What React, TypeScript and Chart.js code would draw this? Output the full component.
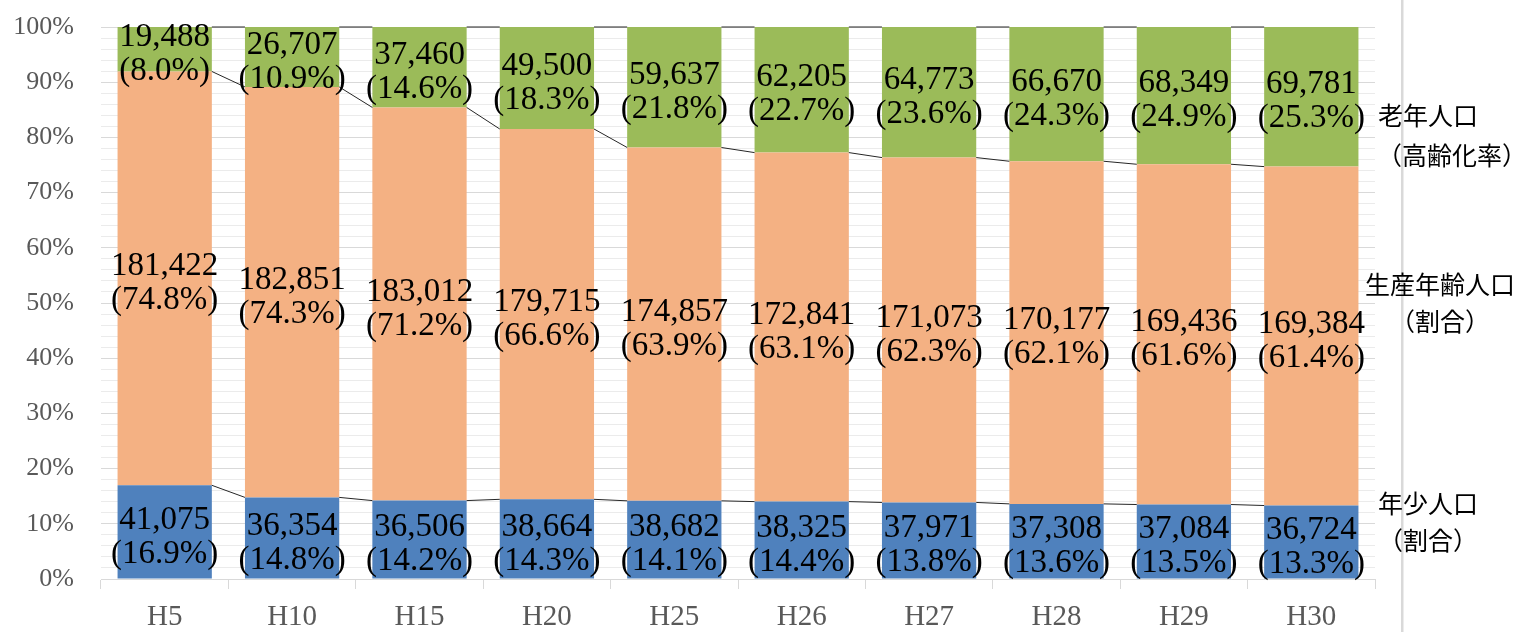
import React, { useEffect, useRef } from 'react';
import { Chart, registerables } from 'chart.js';

Chart.register(...registerables);

const categories = ['H5', 'H10', 'H15', 'H20', 'H25', 'H26', 'H27', 'H28', 'H29', 'H30'];
const youthValues = [41075, 36354, 36506, 38664, 38682, 38325, 37971, 37308, 37084, 36724];
const workingValues = [181422, 182851, 183012, 179715, 174857, 172841, 171073, 170177, 169436, 169384];
const elderlyValues = [19488, 26707, 37460, 49500, 59637, 62205, 64773, 66670, 68349, 69781];
const youthPct = [16.9, 14.8, 14.2, 14.3, 14.1, 14.4, 13.8, 13.6, 13.5, 13.3];
const workingPct = [74.8, 74.3, 71.2, 66.6, 63.9, 63.1, 62.3, 62.1, 61.6, 61.4];
const elderlyPct = [8.0, 10.9, 14.6, 18.3, 21.8, 22.7, 23.6, 24.3, 24.9, 25.3];
const seriesNames = ['年少人口', '生産年齢人口', '老年人口'];
const sideLabelLines = [
  ['老年人口', '（高齢化率）'],
  ['生産年齢人口', '（割合）'],
  ['年少人口', '（割合）'],
];

const colors = ['#4f81bd', '#f4b183', '#9bbb59'];
const seriesValues = [youthValues, workingValues, elderlyValues];
const seriesPct = [youthPct, workingPct, elderlyPct];
const totals = categories.map((_, i) => youthValues[i] + workingValues[i] + elderlyValues[i]);

const labelPlugin = {
  id: 'barLabels',
  afterDatasetsDraw(chart: any) {
    const ctx = chart.ctx;
    ctx.save();
    // connector lines
    ctx.strokeStyle = '#262626';
    ctx.lineWidth = 1;
    chart.data.datasets.forEach((_: any, di: number) => {
      const meta = chart.getDatasetMeta(di);
      for (let i = 0; i < meta.data.length - 1; i++) {
        const a = meta.data[i];
        const b = meta.data[i + 1];
        ctx.beginPath();
        ctx.moveTo(a.x + a.width / 2, a.y);
        ctx.lineTo(b.x - b.width / 2, b.y);
        ctx.stroke();
      }
    });
    // data labels
    ctx.fillStyle = '#000000';
    ctx.font = '33px "Liberation Serif"';
    ctx.textAlign = 'center';
    ctx.textBaseline = 'middle';
    chart.data.datasets.forEach((_: any, di: number) => {
      const meta = chart.getDatasetMeta(di);
      meta.data.forEach((el: any, i: number) => {
        const cy = (el.y + el.base) / 2 + 5;
        const v = seriesValues[di][i].toLocaleString('en-US');
        const p = '(' + seriesPct[di][i].toFixed(1) + '%)';
        ctx.fillText(v, el.x, cy - 17);
        ctx.fillText(p, el.x, cy + 17);
      });
    });
    ctx.restore();
  },
  afterDraw(chart: any) {
    const ctx = chart.ctx;
    const { right, top, bottom } = chart.chartArea;
    const h = bottom - top;
    ctx.save();
    ctx.fillStyle = '#d9d9d9';
    ctx.fillRect(right + 26, 0, 2.5, chart.height);
    ctx.fillStyle = '#000000';
    ctx.font = '25px "Noto Sans CJK JP"';
    ctx.textBaseline = 'middle';
    // elderly (left aligned)
    ctx.textAlign = 'left';
    ctx.fillText(sideLabelLines[0][0], right + 3, top + h * (1 - 0.839));
    ctx.fillText(sideLabelLines[0][1], right + 2, top + h * (1 - 0.768));
    // working (centered)
    ctx.textAlign = 'center';
    ctx.fillText(sideLabelLines[1][0], right + 65, top + h * (1 - 0.534));
    ctx.fillText(sideLabelLines[1][1], right + 65, top + h * (1 - 0.467));
    // youth (centered)
    ctx.fillText(sideLabelLines[2][0], right + 53, top + h * (1 - 0.136));
    ctx.fillText(sideLabelLines[2][1], right + 53, top + h * (1 - 0.069));
    ctx.restore();
  },
};

export default function App() {
  const ref = useRef<HTMLCanvasElement>(null);
  useEffect(() => {
    if (!ref.current) return;
    const chart = new Chart(ref.current, {
      type: 'bar',
      data: {
        labels: categories,
        datasets: seriesValues.map((vals, di) => ({
          label: seriesNames[di],
          data: vals.map((v, i) => (v / totals[i]) * 100),
          backgroundColor: colors[di],
          borderWidth: 0,
          barPercentage: 0.74,
          categoryPercentage: 1,
        })),
      },
      options: {
        responsive: false,
        animation: false,
        devicePixelRatio: 1,
        layout: { padding: { top: 27, right: 145, left: 0, bottom: 0 } },
        plugins: { legend: { display: false }, tooltip: { enabled: false } },
        scales: {
          x: {
            stacked: true,
            grid: {
              display: true,
              drawOnChartArea: false,
              drawTicks: true,
              tickLength: 10,
              color: '#d9d9d9',
              offset: true,
            },
            border: { display: true, color: '#d9d9d9', width: 1 },
            ticks: {
              color: '#595959',
              font: { family: '"Liberation Serif"', size: 29 },
              padding: 11,
              autoSkip: false,
              maxRotation: 0,
            },
            afterFit: (s: any) => {
              s.height = 53;
              s.paddingLeft = 0;
              s.paddingRight = 0;
            },
          },
          y: {
            stacked: true,
            min: 0,
            max: 100,
            grid: {
              color: (c: any) => (c.tick && c.tick.value % 10 === 0 ? '#d9d9d9' : '#ebebeb'),
              drawTicks: false,
              lineWidth: 1,
            },
            border: { display: false },
            ticks: {
              stepSize: 2,
              autoSkip: false,
              padding: 27,
              color: '#595959',
              font: { family: '"Liberation Serif"', size: 26 },
              callback: (v: any) => (Number(v) % 10 === 0 ? v + '%' : ''),
            },
            afterFit: (s: any) => {
              s.width = 101;
              s.paddingTop = 0;
              s.paddingBottom = 0;
            },
          },
        },
      },
      plugins: [labelPlugin],
    });
    return () => chart.destroy();
  }, []);
  return (
    <div style={{ position: 'fixed', left: 0, top: 0, width: 1520, height: 632, background: '#fff' }}>
      <canvas ref={ref} width={1520} height={632} style={{ display: 'block' }} />
    </div>
  );
}
